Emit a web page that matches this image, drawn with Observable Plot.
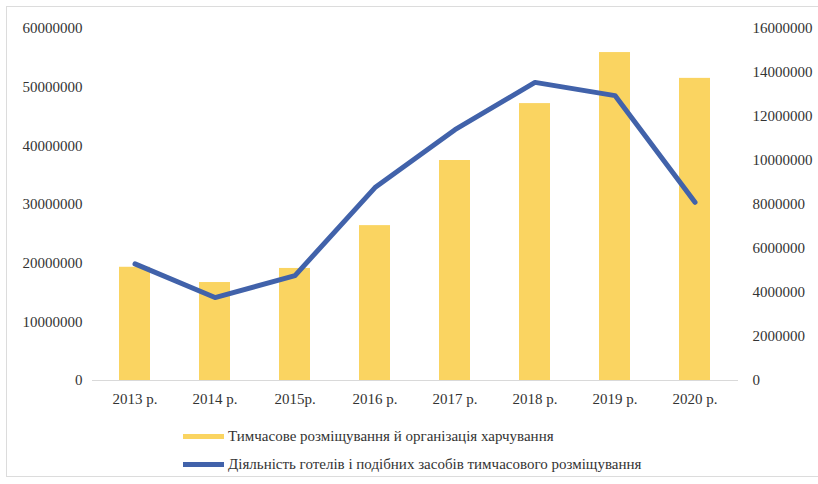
<!DOCTYPE html>
<html>
<head>
<meta charset="utf-8">
<script src="https://cdn.jsdelivr.net/npm/d3@7"></script>
<script src="https://cdn.jsdelivr.net/npm/@observablehq/plot@0.6"></script>
<style>
  html, body { margin: 0; padding: 0; background: #fff; }
  body { width: 818px; height: 484px; position: relative; overflow: hidden; }
  #frame { position: absolute; left: 6px; top: 6px; width: 840px; height: 471px; border: 1px solid #dcdcdc; box-sizing: border-box; }
  #chart { position: absolute; left: 0; top: 0; }
  #legend { position: absolute; left: 183px; top: 422px; font-family: "Liberation Serif", "Times New Roman", serif; font-size: 15px; color: #333; }
  .row { display: flex; align-items: center; height: 28px; }
  .sw { width: 41px; height: 5px; margin-right: 4px; }
</style>
</head>
<body>
<div id="frame"></div>
<div id="chart"></div>
<div id="legend"></div>
<script>
const years = ["2013 р.", "2014 р.", "2015р.", "2016 р.", "2017 р.", "2018 р.", "2019 р.", "2020 р."];
const accommodationFood = [19300000, 16700000, 19100000, 26400000, 37500000, 47200000, 55900000, 51500000];
const hotels = [5300000, 3770000, 4770000, 8770000, 11400000, 13550000, 12950000, 8100000];
const leftTicks = [0, 10000000, 20000000, 30000000, 40000000, 50000000, 60000000];
const rightTicks = [0, 2000000, 4000000, 6000000, 8000000, 10000000, 12000000, 14000000, 16000000];
const seriesNames = ["Тимчасове розміщування й організація харчування", "Діяльність готелів і подібних засобів тимчасового розміщування"];
const colors = ["#FAD461", "#4162AA"];

const ratio = 60000000 / 16000000;
const barData = years.map((y, i) => ({year: y, value: accommodationFood[i]}));
const lineData = years.map((y, i) => ({year: y, value: hotels[i]}));

const chart = Plot.plot({
  width: 818,
  height: 420,
  marginLeft: 92,
  marginRight: 80,
  marginTop: 28,
  marginBottom: 40,
  style: {fontFamily: "'Liberation Serif', serif", fontSize: "15px", color: "#333", background: "transparent"},
  x: {domain: years, paddingInner: 0.61, paddingOuter: 0.305, label: null},
  y: {domain: [0, 60000000], label: null},
  marks: [
    Plot.axisY({ticks: leftTicks, tickFormat: d3.format("d"), tickSize: 0, tickPadding: 10, label: null}),
    Plot.axisY({anchor: "right", ticks: rightTicks.map(v => v * ratio), tickFormat: d => String(Math.round(d / ratio)), tickSize: 0, tickPadding: 14, label: null}),
    Plot.axisX({tickSize: 0, tickPadding: 13, label: null}),
    Plot.barY(barData, {x: "year", y: "value", fill: colors[0]}),
    Plot.ruleY([0], {stroke: "#d9d9d9", strokeWidth: 1.2}),
    Plot.line(lineData, {x: "year", y: d => d.value * ratio, stroke: colors[1], strokeWidth: 5, strokeLinejoin: "round", strokeLinecap: "round"})
  ]
});
document.getElementById("chart").appendChild(chart);

const legend = document.getElementById("legend");
seriesNames.forEach((name, i) => {
  const row = document.createElement("div");
  row.className = "row";
  const sw = document.createElement("div");
  sw.className = "sw";
  sw.style.background = colors[i];
  const t = document.createElement("span");
  t.textContent = name;
  row.appendChild(sw);
  row.appendChild(t);
  legend.appendChild(row);
});
</script>
</body>
</html>
